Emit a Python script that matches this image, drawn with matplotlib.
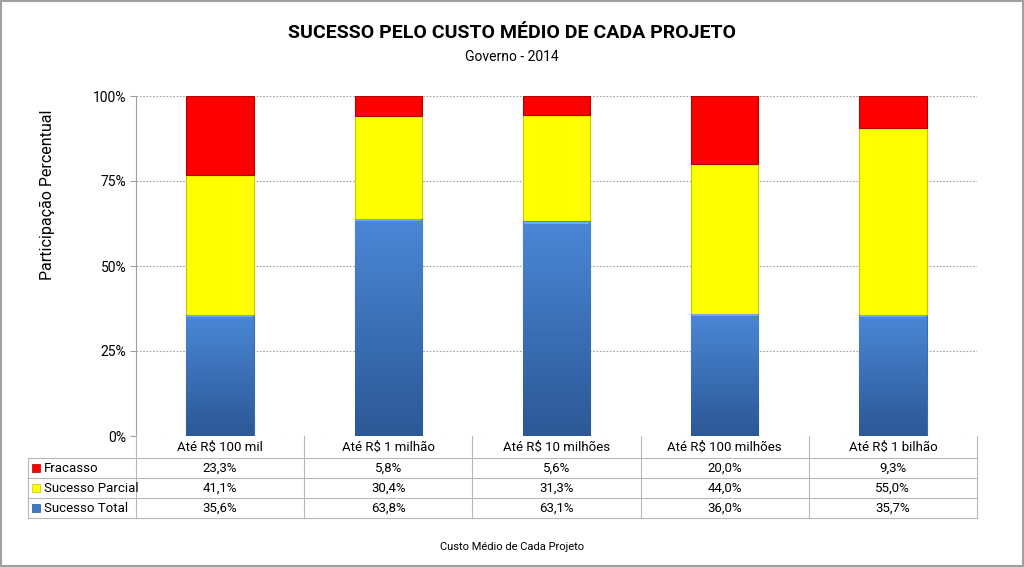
import numpy as np
import matplotlib.pyplot as plt
from matplotlib.patches import Rectangle
from matplotlib.colors import LinearSegmentedColormap

plt.rcParams['font.family'] = ['Roboto', 'DejaVu Sans']

categorias = ['Até R$ 100 mil', 'Até R$ 1 milhão', 'Até R$ 10 milhões',
              'Até R$ 100 milhões', 'Até R$ 1 bilhão']
sucesso_total = [35.6, 63.8, 63.1, 36.0, 35.7]
sucesso_parcial = [41.1, 30.4, 31.3, 44.0, 55.0]
fracasso = [23.3, 5.8, 5.6, 20.0, 9.3]
series = ['Fracasso', 'Sucesso Parcial', 'Sucesso Total']

W, H = 1024, 567
fig = plt.figure(figsize=(W / 100, H / 100), dpi=100)

def fx(px):
    return px / W

def fy(py):
    return 1 - py / H

ax_l, ax_r, ax_t, ax_b = 136, 977, 96, 436
ax = fig.add_axes([fx(ax_l), fy(ax_b), fx(ax_r - ax_l), fy(ax_t) - fy(ax_b)])

x = np.arange(len(categorias)) + 0.5
w = 0.4
blue_cmap = LinearSegmentedColormap.from_list('b', ['#2c5896', '#4a87d6'])

ax.bar(x, sucesso_total, w, color='#3f78c4', edgecolor='#3a6aa8', linewidth=0.8, zorder=3)
for xi, v in zip(x, sucesso_total):
    grad = np.linspace(0, 1, 100).reshape(-1, 1)
    im = ax.imshow(grad, cmap=blue_cmap, origin='lower', aspect='auto',
                   extent=[xi - w / 2, xi + w / 2, 0, v], zorder=3.5)
    clip = Rectangle((xi - w / 2, 0), w, v, transform=ax.transData)
    im.set_clip_path(clip)
    ax.plot([xi - w / 2 + 0.01, xi + w / 2 - 0.01], [v - 0.4, v - 0.4],
            color='#7fb0ee', lw=1.2, zorder=4)
ax.bar(x, sucesso_parcial, w, bottom=sucesso_total, color='#ffff00',
       edgecolor='#c8c800', linewidth=0.8, zorder=3)
base2 = [a + b for a, b in zip(sucesso_total, sucesso_parcial)]
ax.bar(x, fracasso, w, bottom=base2, color='#ff0000',
       edgecolor='#b00000', linewidth=0.8, zorder=3)

ax.set_xlim(0, len(categorias))
ax.set_ylim(0, 100)
ax.set_yticks([0, 25, 50, 75, 100])
ax.set_yticklabels(['0%', '25%', '50%', '75%', '100%'], fontsize=10)
ax.set_xticks([])
ax.yaxis.grid(True, linestyle=(0, (1.5, 1.5)), color='#a0a0a0', linewidth=0.8, zorder=0)
for s in ['top', 'right', 'bottom']:
    ax.spines[s].set_visible(False)
ax.spines['left'].set_color('#a0a0a0')
ax.tick_params(axis='y', length=4, color='#a0a0a0', pad=3)
ax.set_ylabel('Participação Percentual', fontsize=11.5, va='center')
ax.yaxis.set_label_coords((47 - ax_l) / (ax_r - ax_l), (ax_b - 195) / (ax_b - ax_t))

# titles
fig.text(0.5, fy(33), 'SUCESSO PELO CUSTO MÉDIO DE CADA PROJETO', ha='center',
         va='center', fontsize=14, fontweight='bold', fontstretch='condensed')
fig.text(0.5, fy(57), 'Governo - 2014', ha='center', va='center', fontsize=10)
fig.text(0.5, fy(547), 'Custo Médio de Cada Projeto', ha='center', va='center', fontsize=8)

# data table
lc = '#b8b8b8'
tab_left = 28
row_y = [436, 458, 478, 498, 518]
col_x = [ax_l + i * (ax_r - ax_l) / len(categorias) for i in range(len(categorias) + 1)]
for cx in col_x:
    fig.add_artist(plt.Line2D([fx(cx), fx(cx)], [fy(436), fy(518)], color=lc, lw=0.8))
fig.add_artist(plt.Line2D([fx(tab_left), fx(tab_left)], [fy(458), fy(518)], color=lc, lw=0.8))
for ry in row_y[1:]:
    fig.add_artist(plt.Line2D([fx(tab_left), fx(ax_r)], [fy(ry), fy(ry)], color=lc, lw=0.8))

for i, c in enumerate(categorias):
    cx = (col_x[i] + col_x[i + 1]) / 2
    fig.text(fx(cx), fy(447), c, ha='center', va='center', fontsize=9.5)

valores = [fracasso, sucesso_parcial, sucesso_total]
cores = ['#ff0000', '#ffff00', '#3f78c4']
bordas = ['#b00000', '#c8c800', '#2c5896']
for r, (nome, vals, cor, bd) in enumerate(zip(series, valores, cores, bordas)):
    cy = (row_y[r + 1] + row_y[r + 2]) / 2
    fig.add_artist(Rectangle((fx(32), fy(cy + 4)), fx(8), fy(cy - 4) - fy(cy + 4),
                             facecolor=cor, edgecolor=bd, lw=0.5))
    fig.text(fx(44), fy(cy), nome, ha='left', va='center', fontsize=9.5)
    for i, v in enumerate(vals):
        cx = (col_x[i] + col_x[i + 1]) / 2
        fig.text(fx(cx), fy(cy), f'{v:.1f}%'.replace('.', ','), ha='center',
                 va='center', fontsize=9.5)

# outer border
fig.add_artist(Rectangle((0.001, 0.001), 0.998, 0.998, fill=False,
                         edgecolor='#a0a0a0', lw=1.5, transform=fig.transFigure))

fig.savefig('out.png', dpi=100)
